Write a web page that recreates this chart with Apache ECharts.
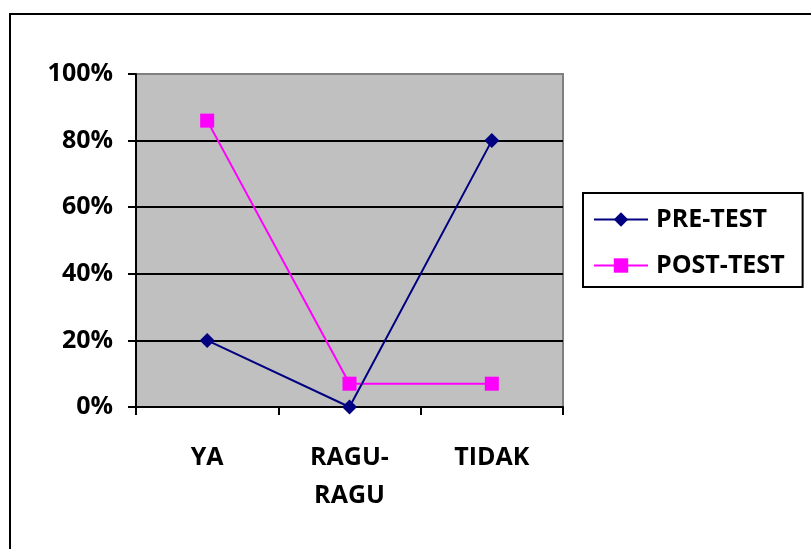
<!DOCTYPE html>
<html>
<head>
<meta charset="utf-8">
<script src="https://cdn.jsdelivr.net/npm/echarts@6/dist/echarts.min.js"></script>
<style>
  html, body { margin: 0; padding: 0; background: #fff; }
  #chart { width: 811px; height: 549px; }
</style>
</head>
<body>
<div id="chart"></div>
<script>
// Survey answers per category, in percent
const categories = ['YA', 'RAGU-\nRAGU', 'TIDAK'];
const preTest = [20, 0, 80];
const postTest = [86, 7, 7];
const yTicks = [0, 20, 40, 60, 80, 100];

const FONT = '"Open Sans"';
const FONT_SIZE = 25;

const chart = echarts.init(document.getElementById('chart'), null, { renderer: 'canvas' });

chart.setOption({
  animation: false,
  backgroundColor: '#ffffff',
  graphic: [{
    type: 'rect',
    shape: { x: 10, y: 14, width: 900, height: 700 },
    style: { fill: 'none', stroke: '#000', lineWidth: 2 },
    z: 100
  }],
  grid: {
    left: 136, top: 74, width: 427, height: 333,
    show: true,
    backgroundColor: '#C0C0C0',
    borderColor: '#808080',
    borderWidth: 2
  },
  legend: {
    orient: 'vertical',
    left: 583, top: 193,
    padding: [14, 18, 9, 10],
    itemWidth: 54, itemHeight: 18,
    itemGap: 21,
    borderColor: '#000', borderWidth: 2,
    textStyle: { fontFamily: FONT, fontWeight: 'bold', fontSize: FONT_SIZE, color: '#000', padding: [0, 0, 0, 3] },
    data: ['PRE-TEST', 'POST-TEST']
  },
  xAxis: {
    type: 'category',
    data: categories,
    boundaryGap: true,
    axisLine: { lineStyle: { color: '#000', width: 2 } },
    axisTick: { show: true, length: 8, lineStyle: { color: '#000', width: 2 } },
    axisLabel: {
      margin: 32, color: '#000', fontFamily: FONT, fontWeight: 'bold', fontSize: FONT_SIZE,
      lineHeight: 38
    }
  },
  yAxis: {
    type: 'value',
    min: 0, max: 100, interval: 20,
    axisLine: { show: true, lineStyle: { color: '#000', width: 2 } },
    axisTick: { show: true, length: 8, lineStyle: { color: '#000', width: 2 } },
    axisLabel: {
      margin: 23, color: '#000', fontFamily: FONT, fontWeight: 'bold', fontSize: FONT_SIZE,
      formatter: v => yTicks.includes(v) ? v + '%' : ''
    },
    splitLine: { show: true, showMaxLine: false, showMinLine: false, lineStyle: { color: '#000', width: 2 } }
  },
  series: [
    {
      name: 'PRE-TEST',
      type: 'line',
      data: preTest,
      symbol: 'diamond',
      symbolSize: 15,
      itemStyle: { color: '#000080' },
      lineStyle: { color: '#000080', width: 2 },
      z: 3
    },
    {
      name: 'POST-TEST',
      type: 'line',
      data: postTest,
      symbol: 'rect',
      symbolSize: 14,
      itemStyle: { color: '#FF00FF' },
      lineStyle: { color: '#FF00FF', width: 2 },
      z: 2
    }
  ]
});
</script>
</body>
</html>
